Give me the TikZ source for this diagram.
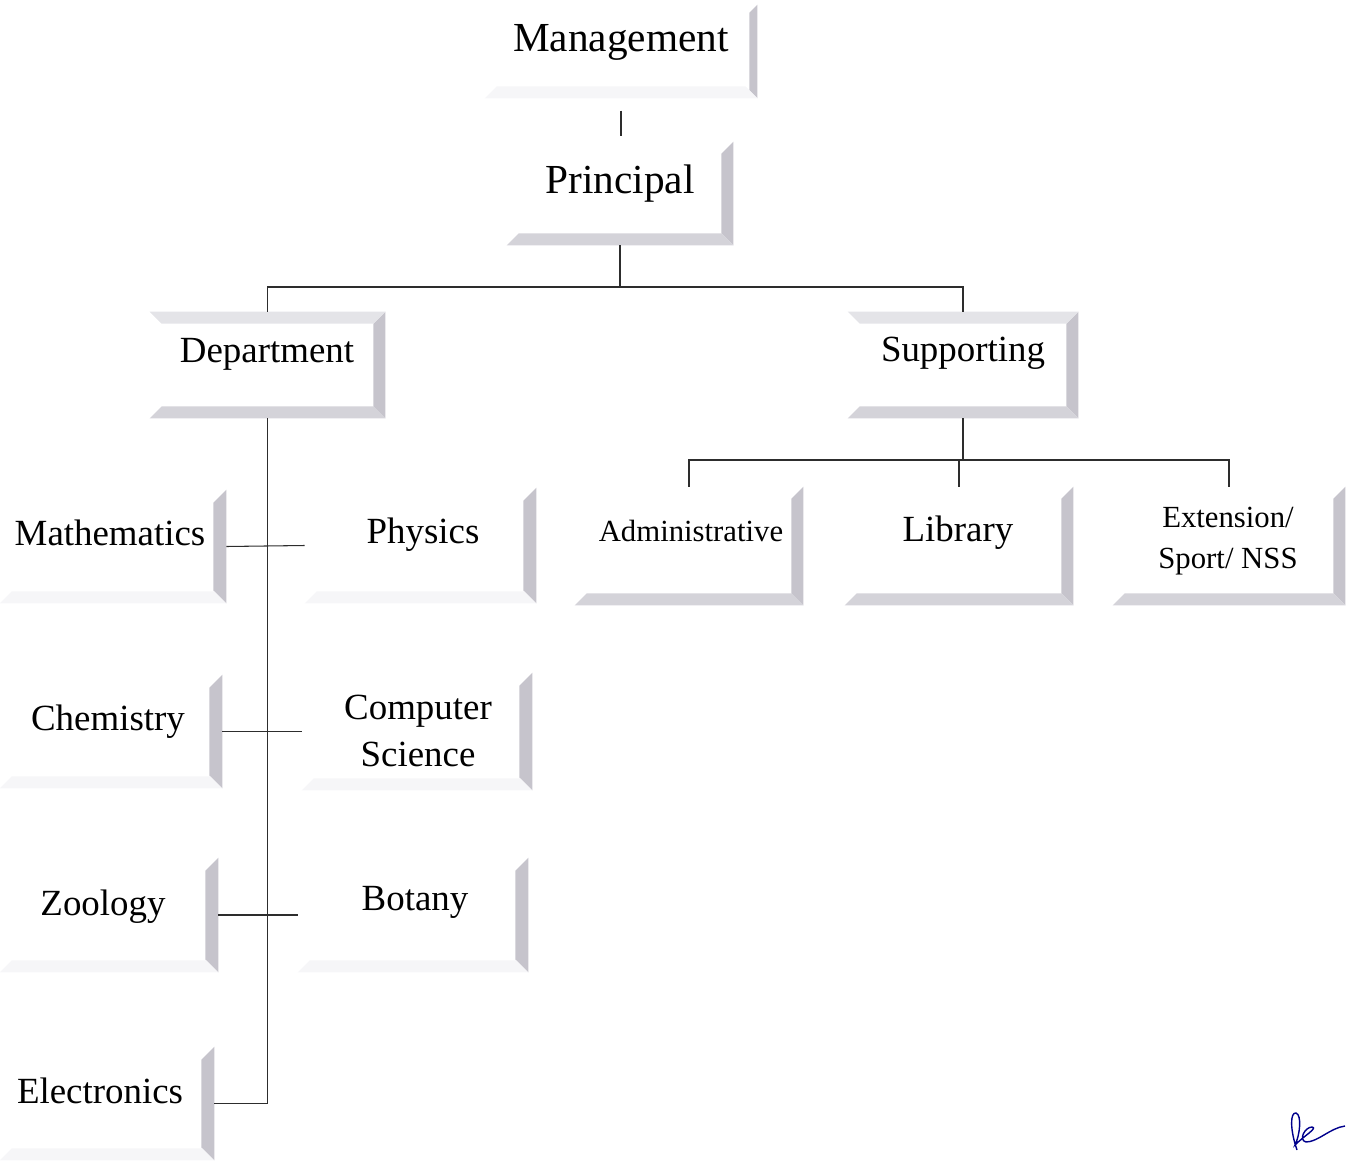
\documentclass[tikz,border=0pt]{standalone}
\usepackage{fontspec}
\setmainfont{Liberation Serif}
\usetikzlibrary{fit}
\definecolor{barR}{RGB}{198,196,204}
\definecolor{barB}{RGB}{212,211,217}
\definecolor{barT}{RGB}{228,228,232}
\definecolor{barF}{RGB}{246,246,248}
\definecolor{ink}{RGB}{45,45,45}
% bevel bars of a box
\newcommand{\rightbar}[2][12]{%
  \fill[barR] (#2.north east) -- (#2.south east) -- ([shift={(-#1,-#1)}]#2.south east) -- ([shift={(-#1,#1)}]#2.north east) -- cycle;}
\newcommand{\bottombar}[2][barB]{%
  \fill[#1] (#2.south west) -- (#2.south east) -- ([shift={(-12,-12)}]#2.south east) -- ([shift={(12,-12)}]#2.south west) -- cycle;}
\newcommand{\topbar}[1]{%
  \fill[barT] (#1.north west) -- (#1.north east) -- ([shift={(-12,12)}]#1.north east) -- ([shift={(12,12)}]#1.north west) -- cycle;}
\begin{document}
\begin{tikzpicture}
    [
        x=0.02cm, y=-0.02cm,
        box/.style={rectangle, inner sep=0pt},
        big/.style={font=\fontsize{23.5}{28}\selectfont, anchor=base},
        mid/.style={font=\fontsize{21}{26.5}\selectfont, anchor=base},
        small/.style={font=\fontsize{17.5}{23}\selectfont, anchor=base},
        link/.style={draw=ink, line width=0.6pt}
    ]
    \useasboundingbox (0,0) rectangle (1350,1163);
    % top
    \node[box, fit={(485,5) (757,98)}] (mgmt) {};
    \node[box, fit={(507,142) (733,245)}] (prin) {};
    \node[big] (mgmtT) at (621,51) {Management};
    \node[big] (prinT) at (620,193) {Principal};
    % second level
    \node[box, fit={(150,312) (385,418)}] (dept) {};
    \node[box, fit={(848,312) (1078,418)}] (supp) {};
    \node[mid] (deptT) at (267,362) {Department};
    \node[mid] (suppT) at (963,361) {Supporting};
    % supporting units
    \node[box, fit={(575,487) (803,605)}] (admin) {};
    \node[box, fit={(845,487) (1073,605)}] (lib) {};
    \node[box, fit={(1113,487) (1345,605)}] (ext) {};
    \node[small] (adminT) at (691,541) {Administrative};
    \node[mid] (libT) at (958,541) {Library};
    \node[small, anchor=center, align=center] (extT) at (1228,541) {Extension/\\Sport/ NSS};
    % departments
    \node[box, fit={(0,490) (226,603)}] (math) {};
    \node[box, fit={(305,488) (536,603)}] (phys) {};
    \node[box, fit={(0,675) (222,788)}] (chem) {};
    \node[box, fit={(302,673) (532,790)}] (cs) {};
    \node[box, fit={(0,858) (218,972)}] (zoo) {};
    \node[box, fit={(298,858) (528,972)}] (bot) {};
    \node[box, fit={(0,1047) (214,1160)}] (elec) {};
    \node[mid] (mathT) at (110,545) {Mathematics};
    \node[mid] (physT) at (423,543) {Physics};
    \node[mid] (chemT) at (108,730) {Chemistry};
    \node[mid, anchor=center, align=center] (csT) at (418,731) {Computer\\Science};
    \node[mid] (zooT) at (103,915) {Zoology};
    \node[mid] (botT) at (415,910) {Botany};
    \node[mid] (elecT) at (100,1103) {Electronics};
    % bevels
    \rightbar[8]{mgmt}
    \bottombar[barF]{mgmt}
    \foreach \n in {prin, dept, supp, admin, lib, ext} {
        \rightbar{\n}
        \bottombar{\n}
    }
    \topbar{dept}
    \topbar{supp}
    \foreach \n in {math, phys, chem, cs, zoo, bot, elec} {
        \rightbar[13]{\n}
        \bottombar[barF]{\n}
    }
    % connectors
    \coordinate (split) at (618,287);
    \coordinate (split2) at (960,460);
    \draw[link, shorten <=7pt, shorten >=3pt] (mgmt.south) -- (mgmt.south |- prin.north);
    \draw[link] (prin.south) -- (prin.south |- split);
    \draw[link] (dept.north) |- (split) -| (supp.north);
    \draw[link] (supp.south) -- (supp.south |- split2);
    \draw[link] (admin.north) |- (split2) -| (ext.north);
    \draw[link] (lib.north) -- (lib.north |- split2);
    \draw[link] (dept.south) |- (elec.east);
    \draw[link] (math.east) -- (phys.west);
    \draw[link] (chem.east) -- (cs.west);
    \draw[link] (zoo.east) -- (bot.west);
    % initials
    \draw[blue!55!black, line width=0.8pt] (1297,1150) .. controls (1290,1130) and (1290,1112) .. (1296,1113)
        .. controls (1302,1115) and (1300,1135) .. (1295,1145)
        .. controls (1305,1135) and (1318,1128) .. (1312,1127)
        .. controls (1305,1127) and (1298,1140) .. (1306,1142)
        .. controls (1318,1142) and (1330,1128) .. (1345,1126);
\end{tikzpicture}
\end{document}
